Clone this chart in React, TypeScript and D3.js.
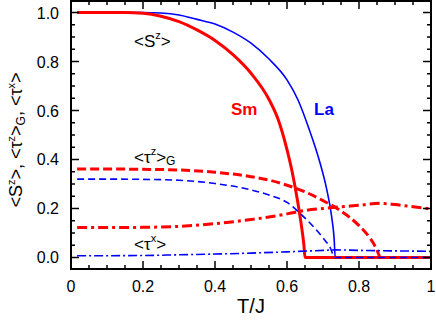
import React from 'react';
import * as d3 from 'd3';

// <S^z> for Sm (red, thick) and La (blue, thin)
const tSmS = [0.017, 0.1, 0.15, 0.2, 0.25, 0.3, 0.35, 0.4, 0.45, 0.5, 0.55, 0.575, 0.6, 0.615, 0.63, 0.64, 0.647, 0.65, 0.7, 0.8, 0.9, 1.0];
const smS = [1.0, 1.0, 1.0, 0.997, 0.985, 0.963, 0.929, 0.886, 0.828, 0.752, 0.645, 0.565, 0.44, 0.345, 0.225, 0.13, 0.05, 0, 0, 0, 0, 0];

const tLaS = [0.017, 0.1, 0.2, 0.25, 0.3, 0.35, 0.4, 0.45, 0.5, 0.55, 0.6, 0.63, 0.66, 0.69, 0.71, 0.724, 0.731, 0.734, 0.8, 0.9, 1.0];
const laS = [1.0, 1.0, 1.0, 0.998, 0.99, 0.972, 0.953, 0.92, 0.875, 0.81, 0.725, 0.645, 0.53, 0.395, 0.28, 0.167, 0.075, 0, 0, 0, 0];

// <tau^z>_G
const tSmTz = [0.017, 0.1, 0.2, 0.3, 0.4, 0.5, 0.55, 0.6, 0.65, 0.7, 0.75, 0.8, 0.83, 0.845, 0.858];
const smTz = [0.361, 0.361, 0.36, 0.357, 0.348, 0.33, 0.316, 0.295, 0.268, 0.232, 0.19, 0.13, 0.08, 0.045, 0];

const tLaTz = [0.017, 0.1, 0.2, 0.3, 0.4, 0.5, 0.55, 0.6, 0.64, 0.68, 0.7, 0.72, 0.733, 0.8, 0.9, 1.0];
const laTz = [0.32, 0.32, 0.319, 0.315, 0.302, 0.276, 0.255, 0.225, 0.175, 0.115, 0.08, 0.04, 0, 0, 0, 0];

// <tau^x>
const tSmTx = [0.017, 0.1, 0.2, 0.3, 0.4, 0.5, 0.55, 0.6, 0.65, 0.7, 0.75, 0.8, 0.858, 0.9, 0.95, 1.0];
const smTx = [0.122, 0.122, 0.123, 0.127, 0.138, 0.155, 0.165, 0.178, 0.192, 0.2, 0.207, 0.213, 0.221, 0.216, 0.207, 0.198];

const tLaTx = [0.017, 0.2, 0.3, 0.4, 0.5, 0.6, 0.7, 0.733, 0.8, 0.9, 1.0];
const laTx = [0.007, 0.008, 0.011, 0.014, 0.018, 0.023, 0.029, 0.031, 0.029, 0.027, 0.025];

const xTicks = [0, 0.2, 0.4, 0.6, 0.8, 1];
const yTicks = [0, 0.2, 0.4, 0.6, 0.8, 1.0];

const RED = '#ff0000';
const BLUE = '#0000ff';
const FONT = 'Liberation Sans, Arial, Helvetica, sans-serif';

const App = () => {
  const width = 436;
  const height = 329;
  const left = 71, right = 431, top = 1, bottom = 269;

  const x = d3.scaleLinear().domain([0, 1]).range([left, right]);
  const y = d3.scaleLinear().domain([-0.047, 1.047]).range([bottom, top]);

  const line = d3.line<[number, number]>()
    .x(d => x(d[0]))
    .y(d => y(d[1]))
    .curve(d3.curveMonotoneX);

  const path = (ts: number[], vs: number[]) => line(ts.map((t, i) => [t, vs[i]] as [number, number])) || '';

  const series = [
    { t: tLaS, v: laS, color: BLUE, w: 1.6, dash: null },
    { t: tSmS, v: smS, color: RED, w: 3, dash: null },
    { t: tSmTz, v: smTz, color: RED, w: 3, dash: '9 4' },
    { t: tSmTx, v: smTx, color: RED, w: 3, dash: '10 4 3 4' },
    { t: tLaTz, v: laTz, color: BLUE, w: 1.6, dash: '7 4' },
    { t: tLaTx, v: laTx, color: BLUE, w: 1.6, dash: '9 3 2 3' },
  ];

  const minorX = d3.range(0, 1.0001, 0.05);
  const minorY = d3.range(0, 1.0001, 0.05);
  const isMajor = (v: number) => Math.abs(v * 5 - Math.round(v * 5)) < 1e-6;

  return (
    <svg width={width} height={height} style={{ position: 'absolute', left: 0, top: 0, background: '#fff' }}
      fontFamily={FONT}>
      <defs>
        <clipPath id="plot">
          <rect x={left} y={top} width={right - left} height={bottom - top} />
        </clipPath>
      </defs>

      <g clipPath="url(#plot)">
        {series.map((s, i) => (
          <path key={i} d={path(s.t, s.v)} fill="none" stroke={s.color} strokeWidth={s.w}
            strokeDasharray={s.dash || undefined} />
        ))}
      </g>

      {/* ticks, inward on all four sides */}
      <g stroke="#000" strokeWidth={1.5}>
        {minorX.map((t, i) => {
          const len = isMajor(t) ? 8 : 4;
          return (
            <g key={'x' + i}>
              <line x1={x(t)} x2={x(t)} y1={bottom} y2={bottom - len} />
              <line x1={x(t)} x2={x(t)} y1={top} y2={top + len} />
            </g>
          );
        })}
        {minorY.map((v, i) => {
          const len = isMajor(v) ? 8 : 4;
          return (
            <g key={'y' + i}>
              <line x1={left} x2={left + len} y1={y(v)} y2={y(v)} />
              <line x1={right} x2={right - len} y1={y(v)} y2={y(v)} />
            </g>
          );
        })}
      </g>

      <rect x={left} y={top} width={right - left} height={bottom - top} fill="none" stroke="#000" strokeWidth={2} />

      {xTicks.map(t => (
        <text key={t} x={x(t)} y={292} fontSize={16} textAnchor="middle">{t === 0 || t === 1 ? d3.format('d')(t) : d3.format('.1f')(t)}</text>
      ))}
      {yTicks.map(v => (
        <text key={v} x={59} y={y(v) + 6} fontSize={16} textAnchor="end">{d3.format('.1f')(v)}</text>
      ))}

      <text x={(left + right) / 2} y={313} fontSize={20} textAnchor="middle">T/J</text>

      <text transform="translate(22,140) rotate(-90)" fontSize={18} textAnchor="middle">
        &lt;S<tspan dy={-7} fontSize={11}>z</tspan><tspan dy={7}>&gt;, &lt;τ</tspan>
        <tspan dy={-7} fontSize={11}>z</tspan><tspan dy={7}>&gt;</tspan>
        <tspan dy={3} fontSize={12}>G</tspan><tspan dy={-3}>, &lt;τ</tspan>
        <tspan dy={-7} fontSize={11}>x</tspan><tspan dy={7}>&gt;</tspan>
      </text>

      <text x={134} y={47} fontSize={17}>
        &lt;S<tspan dy={-8} fontSize={11}>z</tspan><tspan dy={8}>&gt;</tspan>
      </text>
      <text x={134} y={163} fontSize={17}>
        &lt;τ<tspan dy={-8} fontSize={11}>z</tspan><tspan dy={8}>&gt;</tspan>
        <tspan dy={2} fontSize={12}>G</tspan>
      </text>
      <text x={134} y={250} fontSize={17}>
        &lt;τ<tspan dy={-8} fontSize={11}>x</tspan><tspan dy={8}>&gt;</tspan>
      </text>

      <text x={231} y={115} fontSize={17} fontWeight="bold" fill={RED}>Sm</text>
      <text x={314} y={115} fontSize={17} fontWeight="bold" fill={BLUE}>La</text>
    </svg>
  );
};

export default App;
